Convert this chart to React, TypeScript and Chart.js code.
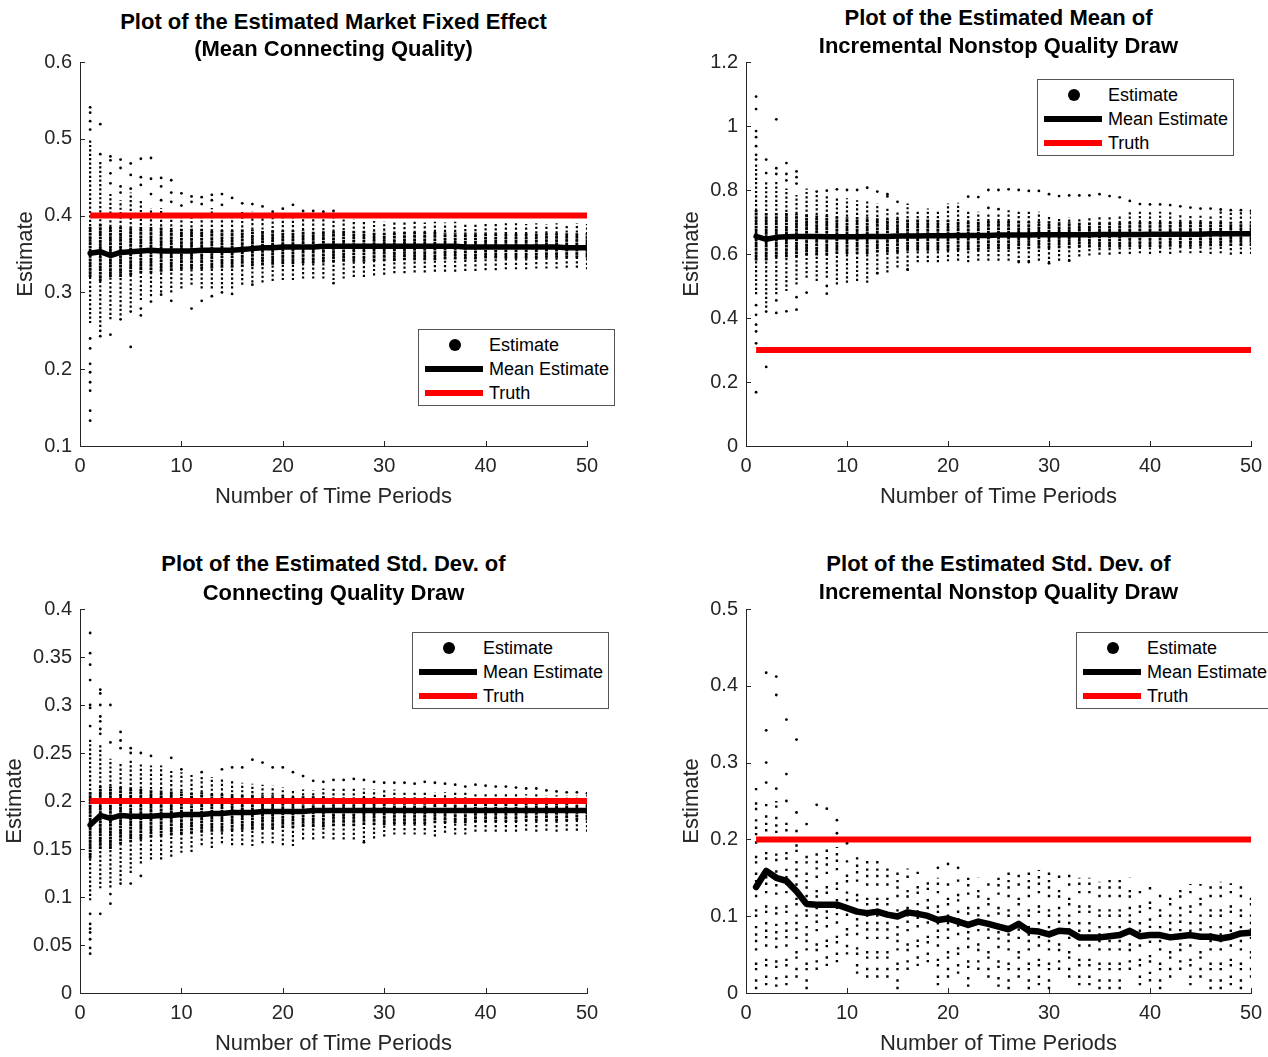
import React, { useEffect, useRef } from 'react';
import { Chart, registerables } from 'chart.js';

Chart.register(...registerables);

const FONT = '"Liberation Sans", Arial, Helvetica, sans-serif';
const AXIS = '#262626';

// ---------- shared axis data ----------
const PERIODS = [1, 2, 3, 4, 5, 6, 7, 8, 9, 10, 11, 12, 13, 14, 15, 16, 17, 18, 19, 20, 21, 22, 23, 24, 25, 26, 27, 28, 29, 30, 31, 32, 33, 34, 35, 36, 37, 38, 39, 40, 41, 42, 43, 44, 45, 46, 47, 48, 49, 50];
const X_TICKS = [0, 10, 20, 30, 40, 50];

// ---------- panel 1: market fixed effect ----------
const P1_Y_TICKS = [0.1, 0.2, 0.3, 0.4, 0.5, 0.6];
const P1_TRUTH = 0.4;
const P1_MEAN = [0.351, 0.353, 0.348, 0.352, 0.353, 0.354, 0.355, 0.354, 0.354, 0.354, 0.354, 0.355, 0.355, 0.355, 0.355, 0.356, 0.357, 0.358, 0.358, 0.359, 0.359, 0.359, 0.359, 0.36, 0.36, 0.36, 0.36, 0.36, 0.36, 0.36, 0.36, 0.36, 0.36, 0.36, 0.36, 0.36, 0.36, 0.359, 0.359, 0.359, 0.359, 0.359, 0.359, 0.359, 0.359, 0.359, 0.359, 0.358, 0.358, 0.358];
const P1_HI = [0.50, 0.47, 0.43, 0.42, 0.43, 0.42, 0.41, 0.41, 0.40, 0.40, 0.40, 0.40, 0.41, 0.40, 0.40, 0.405, 0.405, 0.40, 0.40, 0.40, 0.40, 0.40, 0.40, 0.40, 0.40, 0.395, 0.395, 0.394, 0.393, 0.392, 0.392, 0.393, 0.392, 0.391, 0.392, 0.391, 0.392, 0.391, 0.390, 0.391, 0.390, 0.391, 0.390, 0.389, 0.390, 0.389, 0.390, 0.389, 0.390, 0.389];
const P1_LO = [0.26, 0.255, 0.265, 0.27, 0.28, 0.29, 0.295, 0.30, 0.30, 0.305, 0.31, 0.305, 0.305, 0.305, 0.305, 0.31, 0.313, 0.313, 0.315, 0.316, 0.316, 0.318, 0.318, 0.318, 0.316, 0.318, 0.32, 0.32, 0.322, 0.323, 0.325, 0.325, 0.326, 0.326, 0.327, 0.327, 0.327, 0.328, 0.328, 0.329, 0.329, 0.33, 0.33, 0.33, 0.331, 0.331, 0.331, 0.332, 0.332, 0.33];
const P1_CORE_LO = [0.32, 0.315, 0.32, 0.32, 0.322, 0.325, 0.325, 0.327, 0.328, 0.33, 0.33, 0.33, 0.331, 0.332, 0.332, 0.333, 0.334, 0.335, 0.336, 0.337, 0.337, 0.338, 0.338, 0.339, 0.339, 0.34, 0.34, 0.34, 0.341, 0.341, 0.341, 0.342, 0.342, 0.342, 0.342, 0.343, 0.343, 0.343, 0.343, 0.344, 0.344, 0.344, 0.344, 0.344, 0.344, 0.345, 0.345, 0.345, 0.345, 0.345];
const P1_CORE_HI = [0.385, 0.39, 0.385, 0.385, 0.385, 0.385, 0.385, 0.385, 0.384, 0.383, 0.383, 0.383, 0.382, 0.382, 0.382, 0.382, 0.382, 0.381, 0.381, 0.381, 0.381, 0.381, 0.380, 0.380, 0.380, 0.380, 0.380, 0.380, 0.379, 0.379, 0.379, 0.379, 0.379, 0.379, 0.379, 0.378, 0.378, 0.378, 0.378, 0.378, 0.378, 0.378, 0.377, 0.377, 0.377, 0.377, 0.377, 0.377, 0.377, 0.377];
const P1_OUT = [[1, 0.541], [1, 0.534], [1, 0.523], [1, 0.512], [1, 0.24], [1, 0.227], [1, 0.207], [1, 0.196], [1, 0.183], [1, 0.172], [1, 0.146], [1, 0.133], [2, 0.519], [2, 0.48], [2, 0.25], [2, 0.243], [3, 0.477], [3, 0.472], [3, 0.455], [3, 0.442], [3, 0.245], [4, 0.473], [4, 0.462], [4, 0.438], [4, 0.43], [4, 0.265], [5, 0.468], [5, 0.453], [5, 0.435], [5, 0.275], [5, 0.229], [6, 0.474], [6, 0.45], [6, 0.44], [6, 0.279], [6, 0.27], [7, 0.475], [7, 0.448], [7, 0.428], [7, 0.288], [8, 0.449], [8, 0.438], [8, 0.42], [8, 0.297], [9, 0.446], [9, 0.43], [9, 0.418], [9, 0.289], [10, 0.429], [10, 0.413], [11, 0.425], [11, 0.418], [11, 0.279], [12, 0.424], [12, 0.415], [12, 0.289], [13, 0.427], [13, 0.42], [13, 0.295], [14, 0.428], [14, 0.414], [14, 0.30], [15, 0.423], [15, 0.298], [16, 0.416], [17, 0.415], [17, 0.31], [18, 0.412], [19, 0.405], [20, 0.409], [21, 0.414], [22, 0.406], [23, 0.406], [24, 0.405], [25, 0.406], [25, 0.312]];

// ---------- panel 2: mean of incremental nonstop quality draw ----------
const P2_Y_TICKS = [0, 0.2, 0.4, 0.6, 0.8, 1, 1.2];
const P2_TRUTH = 0.3;
const P2_MEAN = [0.655, 0.646, 0.652, 0.654, 0.655, 0.655, 0.655, 0.654, 0.654, 0.654, 0.654, 0.655, 0.655, 0.655, 0.656, 0.656, 0.656, 0.657, 0.657, 0.657, 0.658, 0.658, 0.658, 0.658, 0.659, 0.659, 0.659, 0.659, 0.66, 0.66, 0.66, 0.66, 0.66, 0.66, 0.661, 0.661, 0.661, 0.661, 0.661, 0.662, 0.662, 0.662, 0.662, 0.662, 0.662, 0.663, 0.663, 0.663, 0.663, 0.663];
const P2_HI = [0.884, 0.826, 0.826, 0.805, 0.784, 0.805, 0.79, 0.784, 0.779, 0.774, 0.768, 0.768, 0.758, 0.742, 0.737, 0.758, 0.737, 0.742, 0.737, 0.758, 0.76, 0.737, 0.732, 0.726, 0.726, 0.737, 0.732, 0.732, 0.732, 0.721, 0.716, 0.716, 0.716, 0.716, 0.716, 0.716, 0.721, 0.732, 0.732, 0.732, 0.732, 0.732, 0.726, 0.721, 0.721, 0.721, 0.737, 0.737, 0.737, 0.732];
const P2_LO = [0.474, 0.432, 0.474, 0.484, 0.505, 0.526, 0.516, 0.526, 0.505, 0.51, 0.516, 0.51, 0.537, 0.542, 0.558, 0.547, 0.574, 0.574, 0.574, 0.577, 0.579, 0.574, 0.579, 0.579, 0.579, 0.579, 0.574, 0.574, 0.579, 0.571, 0.579, 0.577, 0.592, 0.595, 0.598, 0.598, 0.60, 0.60, 0.602, 0.60, 0.603, 0.60, 0.604, 0.602, 0.603, 0.60, 0.602, 0.598, 0.60, 0.60];
const P2_CORE_LO = [0.58, 0.58, 0.59, 0.59, 0.59, 0.595, 0.595, 0.595, 0.60, 0.60, 0.60, 0.60, 0.605, 0.605, 0.605, 0.61, 0.61, 0.61, 0.61, 0.61, 0.612, 0.612, 0.612, 0.615, 0.615, 0.615, 0.615, 0.615, 0.617, 0.617, 0.618, 0.618, 0.62, 0.62, 0.62, 0.62, 0.62, 0.622, 0.622, 0.622, 0.622, 0.623, 0.623, 0.623, 0.624, 0.624, 0.624, 0.625, 0.625, 0.625];
const P2_CORE_HI = [0.74, 0.73, 0.73, 0.73, 0.725, 0.725, 0.72, 0.72, 0.72, 0.715, 0.715, 0.715, 0.712, 0.71, 0.71, 0.71, 0.708, 0.708, 0.706, 0.706, 0.705, 0.705, 0.704, 0.704, 0.703, 0.703, 0.703, 0.702, 0.702, 0.702, 0.701, 0.701, 0.701, 0.70, 0.70, 0.70, 0.70, 0.70, 0.70, 0.70, 0.70, 0.70, 0.70, 0.70, 0.70, 0.70, 0.70, 0.70, 0.70, 0.70];
const P2_OUT = [[1, 1.092], [1, 1.053], [1, 0.984], [1, 0.965], [1, 0.937], [1, 0.91], [1, 0.895], [1, 0.44], [1, 0.41], [1, 0.379], [1, 0.358], [1, 0.321], [1, 0.168], [2, 0.895], [2, 0.853], [2, 0.42], [2, 0.247], [3, 1.021], [3, 0.868], [3, 0.85], [3, 0.455], [3, 0.416], [4, 0.884], [4, 0.85], [4, 0.83], [4, 0.421], [5, 0.858], [5, 0.84], [5, 0.82], [5, 0.465], [5, 0.426], [6, 0.479], [7, 0.795], [8, 0.798], [8, 0.50], [8, 0.476], [9, 0.802], [10, 0.80], [11, 0.80], [12, 0.807], [13, 0.795], [13, 0.54], [14, 0.787], [14, 0.78], [15, 0.763], [16, 0.552], [22, 0.779], [23, 0.778], [24, 0.80], [24, 0.744], [25, 0.80], [25, 0.74], [26, 0.802], [27, 0.80], [27, 0.575], [28, 0.797], [28, 0.575], [29, 0.797], [30, 0.787], [30, 0.571], [31, 0.781], [32, 0.783], [32, 0.579], [33, 0.783], [34, 0.783], [35, 0.787], [36, 0.781], [37, 0.777], [38, 0.766], [39, 0.756], [40, 0.755], [41, 0.755], [42, 0.753], [43, 0.749], [44, 0.745], [45, 0.742], [46, 0.742], [47, 0.739], [48, 0.737], [49, 0.737], [50, 0.735]];

// ---------- panel 3: std. dev. of connecting quality draw ----------
const P3_Y_TICKS = [0, 0.05, 0.1, 0.15, 0.2, 0.25, 0.3, 0.35, 0.4];
const P3_TRUTH = 0.2;
const P3_MEAN = [0.175, 0.185, 0.182, 0.185, 0.184, 0.184, 0.184, 0.185, 0.185, 0.186, 0.186, 0.186, 0.187, 0.187, 0.188, 0.188, 0.188, 0.189, 0.189, 0.189, 0.189, 0.189, 0.19, 0.19, 0.19, 0.19, 0.19, 0.19, 0.19, 0.19, 0.19, 0.19, 0.19, 0.19, 0.19, 0.19, 0.19, 0.19, 0.19, 0.19, 0.19, 0.19, 0.19, 0.19, 0.19, 0.19, 0.19, 0.19, 0.19, 0.19];
const P3_HI = [0.265, 0.258, 0.244, 0.24, 0.244, 0.24, 0.237, 0.237, 0.232, 0.23, 0.228, 0.226, 0.225, 0.223, 0.221, 0.219, 0.218, 0.217, 0.216, 0.214, 0.212, 0.212, 0.211, 0.213, 0.213, 0.213, 0.213, 0.213, 0.212, 0.212, 0.212, 0.209, 0.209, 0.209, 0.209, 0.209, 0.209, 0.209, 0.209, 0.209, 0.208, 0.207, 0.207, 0.207, 0.207, 0.206, 0.206, 0.206, 0.206, 0.206];
const P3_LO = [0.0965, 0.109, 0.11, 0.117, 0.125, 0.135, 0.139, 0.139, 0.142, 0.146, 0.147, 0.154, 0.151, 0.156, 0.154, 0.154, 0.153, 0.156, 0.156, 0.154, 0.153, 0.16, 0.16, 0.161, 0.16, 0.16, 0.16, 0.157, 0.161, 0.163, 0.165, 0.165, 0.165, 0.165, 0.163, 0.167, 0.165, 0.165, 0.168, 0.168, 0.168, 0.168, 0.168, 0.169, 0.168, 0.169, 0.168, 0.169, 0.169, 0.168];
const P3_CORE_LO = [0.14, 0.15, 0.15, 0.155, 0.157, 0.16, 0.162, 0.163, 0.164, 0.165, 0.166, 0.167, 0.168, 0.168, 0.169, 0.17, 0.17, 0.171, 0.171, 0.172, 0.172, 0.173, 0.173, 0.173, 0.174, 0.174, 0.174, 0.175, 0.175, 0.175, 0.176, 0.176, 0.176, 0.176, 0.177, 0.177, 0.177, 0.177, 0.178, 0.178, 0.178, 0.178, 0.178, 0.179, 0.179, 0.179, 0.179, 0.179, 0.18, 0.18];
const P3_CORE_HI = [0.21, 0.215, 0.215, 0.215, 0.214, 0.213, 0.212, 0.211, 0.21, 0.21, 0.209, 0.209, 0.208, 0.208, 0.207, 0.207, 0.207, 0.206, 0.206, 0.206, 0.205, 0.205, 0.205, 0.205, 0.204, 0.204, 0.204, 0.204, 0.204, 0.203, 0.203, 0.203, 0.203, 0.203, 0.203, 0.202, 0.202, 0.202, 0.202, 0.202, 0.202, 0.202, 0.201, 0.201, 0.201, 0.201, 0.201, 0.201, 0.201, 0.201];
const P3_OUT = [[1, 0.375], [1, 0.354], [1, 0.342], [1, 0.326], [1, 0.30], [1, 0.297], [1, 0.278], [1, 0.0825], [1, 0.072], [1, 0.067], [1, 0.063], [1, 0.056], [1, 0.047], [1, 0.041], [2, 0.316], [2, 0.312], [2, 0.30], [2, 0.288], [2, 0.283], [2, 0.275], [2, 0.27], [2, 0.0825], [3, 0.30], [3, 0.261], [3, 0.103], [3, 0.093], [4, 0.272], [4, 0.263], [4, 0.255], [4, 0.114], [5, 0.255], [5, 0.25], [5, 0.114], [6, 0.25], [6, 0.122], [7, 0.247], [9, 0.245], [10, 0.233], [12, 0.23], [14, 0.233], [15, 0.235], [16, 0.235], [17, 0.243], [18, 0.24], [19, 0.235], [20, 0.235], [21, 0.23], [22, 0.226], [23, 0.221], [24, 0.22], [25, 0.222], [26, 0.222], [27, 0.223], [28, 0.222], [28, 0.157], [29, 0.22], [30, 0.219], [31, 0.219], [32, 0.219], [33, 0.218], [34, 0.22], [35, 0.219], [36, 0.218], [37, 0.217], [38, 0.215], [39, 0.217], [40, 0.216], [41, 0.215], [42, 0.215], [43, 0.214], [44, 0.213], [45, 0.213], [46, 0.211], [47, 0.21], [48, 0.209], [49, 0.209], [50, 0.208]];

// ---------- panel 4: std. dev. of incremental nonstop quality draw ----------
const P4_Y_TICKS = [0, 0.1, 0.2, 0.3, 0.4, 0.5];
const P4_TRUTH = 0.2;
const P4_MEAN = [0.138, 0.159, 0.15, 0.146, 0.1325, 0.116, 0.115, 0.115, 0.115, 0.1105, 0.106, 0.104, 0.106, 0.102, 0.0996, 0.105, 0.103, 0.1004, 0.095, 0.097, 0.093, 0.0886, 0.093, 0.09, 0.0864, 0.083, 0.09, 0.081, 0.08, 0.0763, 0.081, 0.08, 0.0724, 0.0724, 0.0724, 0.074, 0.0754, 0.081, 0.074, 0.0754, 0.0754, 0.0724, 0.074, 0.0754, 0.0733, 0.0733, 0.071, 0.0733, 0.0776, 0.0785];
const P4_HI = [0.27, 0.25, 0.25, 0.225, 0.22, 0.19, 0.19, 0.19, 0.19, 0.18, 0.18, 0.175, 0.172, 0.168, 0.162, 0.162, 0.16, 0.155, 0.15, 0.15, 0.15, 0.156, 0.15, 0.15, 0.152, 0.158, 0.155, 0.158, 0.16, 0.16, 0.156, 0.158, 0.15, 0.15, 0.145, 0.148, 0.152, 0.15, 0.14, 0.138, 0.133, 0.13, 0.135, 0.142, 0.142, 0.143, 0.145, 0.143, 0.142, 0.132];
const P4_LO = [0.005, 0.01, 0.008, 0.01, 0.02, 0.005, 0.03, 0.035, 0.04, 0.05, 0.025, 0.02, 0.02, 0.02, 0.005, 0.03, 0.035, 0.04, 0.01, 0.02, 0.025, 0.008, 0.03, 0.02, 0.008, 0.005, 0.02, 0.005, 0.01, 0.005, 0.03, 0.02, 0.01, 0.01, 0.005, 0.005, 0.005, 0.03, 0.01, 0.015, 0.005, 0.02, 0.03, 0.01, 0.02, 0.005, 0.005, 0.01, 0.005, 0.02];
const P4_OUT = [[2, 0.417], [2, 0.342], [2, 0.30], [2, 0.274], [3, 0.412], [3, 0.388], [3, 0.266], [4, 0.356], [4, 0.285], [4, 0.25], [5, 0.33], [5, 0.235], [6, 0.22], [7, 0.245], [8, 0.24], [9, 0.225], [9, 0.208], [10, 0.195], [19, 0.163], [20, 0.168], [21, 0.163]];

// ---------- helpers ----------
const fmt = (v: any) => String(Number(Number(v).toFixed(3)));

function columns(lo: number[], hi: number[]) {
  const pts: any[] = [];
  PERIODS.forEach((t, i) => {
    pts.push({ x: t, y: lo[i] }, { x: t, y: hi[i] }, { x: t, y: null });
  });
  return pts;
}

const inwardTicks = {
  id: 'inwardTicks',
  afterDraw(chart: any) {
    const { ctx, chartArea: a, scales } = chart;
    const x = scales.x;
    const y = scales.y;
    ctx.save();
    ctx.strokeStyle = AXIS;
    ctx.lineWidth = 1;
    ctx.beginPath();
    x.ticks.forEach((t: any) => {
      const px = Math.round(x.getPixelForValue(t.value)) + 0.5;
      ctx.moveTo(px, a.bottom);
      ctx.lineTo(px, a.bottom - 5);
    });
    y.ticks.forEach((t: any) => {
      const py = Math.round(y.getPixelForValue(t.value)) + 0.5;
      ctx.moveTo(a.left, py);
      ctx.lineTo(a.left + 5, py);
    });
    ctx.stroke();
    ctx.restore();
  },
};

const AX_W = 60;
const AX_H = 40;
const PAD_T = 20;
const PAD_R = 16;

type PanelCfg = {
  L: number; R: number; T: number; B: number;
  yTicks: number[]; truth: number; mean: number[];
  lo: number[]; hi: number[]; coreLo?: number[]; coreHi?: number[];
  out: number[][]; sparse?: boolean; meanWidth: number;
  title: string[]; titleY: number[]; yLabelX: number;
  legend: { left: number; top: number };
};

const PANELS: PanelCfg[] = [
  { L: 80, R: 587, T: 62, B: 446, yTicks: P1_Y_TICKS, truth: P1_TRUTH, mean: P1_MEAN, lo: P1_LO, hi: P1_HI, coreLo: P1_CORE_LO, coreHi: P1_CORE_HI, out: P1_OUT, meanWidth: 5.5,
    title: ['Plot of the Estimated Market Fixed Effect', '(Mean Connecting Quality)'], titleY: [22, 49], yLabelX: 25, legend: { left: 418, top: 329 } },
  { L: 746, R: 1251, T: 62, B: 446, yTicks: P2_Y_TICKS, truth: P2_TRUTH, mean: P2_MEAN, lo: P2_LO, hi: P2_HI, coreLo: P2_CORE_LO, coreHi: P2_CORE_HI, out: P2_OUT, meanWidth: 5.5,
    title: ['Plot of the Estimated Mean of', 'Incremental Nonstop Quality Draw'], titleY: [18, 46], yLabelX: 691, legend: { left: 1037, top: 79 } },
  { L: 80, R: 587, T: 609, B: 993, yTicks: P3_Y_TICKS, truth: P3_TRUTH, mean: P3_MEAN, lo: P3_LO, hi: P3_HI, coreLo: P3_CORE_LO, coreHi: P3_CORE_HI, out: P3_OUT, meanWidth: 5.5,
    title: ['Plot of the Estimated Std. Dev. of', 'Connecting Quality Draw'], titleY: [564, 593], yLabelX: 14, legend: { left: 412, top: 632 } },
  { L: 746, R: 1251, T: 609, B: 993, yTicks: P4_Y_TICKS, truth: P4_TRUTH, mean: P4_MEAN, lo: P4_LO, hi: P4_HI, out: P4_OUT, sparse: true, meanWidth: 6.5,
    title: ['Plot of the Estimated Std. Dev. of', 'Incremental Nonstop Quality Draw'], titleY: [564, 592], yLabelX: 691, legend: { left: 1076, top: 632 } },
];

function Panel({ p }: { p: PanelCfg }) {
  const ref = useRef<HTMLCanvasElement | null>(null);
  const w = p.R - p.L + AX_W + PAD_R;
  const h = p.B - p.T + PAD_T + AX_H;

  useEffect(() => {
    if (!ref.current) return;
    const datasets: any[] = [
      { type: 'line', data: [{ x: PERIODS[0], y: p.truth }, { x: PERIODS[PERIODS.length - 1], y: p.truth }], borderColor: '#ff0000', borderWidth: 6, pointRadius: 0, borderCapStyle: 'butt' },
      { type: 'line', data: p.mean.map((v, i) => ({ x: PERIODS[i], y: v })), borderColor: '#000000', borderWidth: p.meanWidth, pointRadius: 0, borderJoinStyle: 'round', borderCapStyle: 'round' },
    ];
    if (p.coreLo && p.coreHi) {
      datasets.push({ type: 'line', data: columns(p.coreLo, p.coreHi), borderColor: '#000000', borderWidth: 2.8, borderDash: [2.5, 0.7], pointRadius: 0, spanGaps: false });
    }
    datasets.push({
      type: 'line', data: columns(p.lo, p.hi), borderColor: '#000000', borderWidth: p.sparse ? 2.4 : 2.2,
      borderDash: p.sparse ? [2.4, 5, 2.4, 9, 2.4, 3, 2.4, 12, 2.4, 6, 2.4, 4] : [2.2, 2.2], pointRadius: 0, spanGaps: false,
    });
    datasets.push({ type: 'scatter', data: p.out.map(([x, y]) => ({ x, y })), backgroundColor: '#000000', borderWidth: 0, pointRadius: 1.4, showLine: false });

    const tickFont = { family: FONT, size: 20 };
    const chart = new Chart(ref.current, {
      type: 'line',
      data: { datasets },
      options: {
        responsive: false,
        animation: false,
        events: [],
        plugins: { legend: { display: false }, tooltip: { enabled: false } },
        layout: { padding: { top: PAD_T, right: PAD_R, left: 0, bottom: 0 } },
        scales: {
          x: {
            type: 'linear', min: 0, max: 50,
            afterBuildTicks: (s: any) => { s.ticks = X_TICKS.map((v) => ({ value: v })); },
            afterFit: (s: any) => { s.height = AX_H; s.paddingLeft = 0; s.paddingRight = 0; },
            grid: { display: false, drawTicks: false },
            border: { display: true, color: AXIS, width: 1 },
            ticks: { padding: 8, color: AXIS, font: tickFont, maxRotation: 0, autoSkip: false, callback: fmt },
          },
          y: {
            type: 'linear', min: p.yTicks[0], max: p.yTicks[p.yTicks.length - 1],
            afterBuildTicks: (s: any) => { s.ticks = p.yTicks.map((v) => ({ value: v })); },
            afterFit: (s: any) => { s.width = AX_W; s.paddingTop = 0; s.paddingBottom = 0; },
            grid: { display: false, drawTicks: false },
            border: { display: true, color: AXIS, width: 1 },
            ticks: { padding: 8, color: AXIS, font: tickFont, autoSkip: false, callback: fmt },
          },
        },
      } as any,
      plugins: [inwardTicks],
    });
    return () => chart.destroy();
  }, [p]);

  const cx = (p.L + p.R) / 2;
  return (
    <>
      <canvas ref={ref} width={w} height={h} style={{ position: 'absolute', left: p.L - AX_W, top: p.T - PAD_T, width: w, height: h }} />
      {p.title.map((t, i) => (
        <div key={i} style={{ position: 'absolute', left: cx - 400, width: 800, top: p.titleY[i] - 13, height: 26, lineHeight: '26px', textAlign: 'center', fontWeight: 'bold', fontSize: 22, color: '#000', whiteSpace: 'nowrap' }}>{t}</div>
      ))}
      <div style={{ position: 'absolute', left: cx - 200, width: 400, top: p.B + 50 - 13, height: 26, lineHeight: '26px', textAlign: 'center', fontSize: 22, color: AXIS }}>Number of Time Periods</div>
      <div style={{ position: 'absolute', left: p.yLabelX - 60, width: 120, top: (p.T + p.B) / 2 - 13, height: 26, lineHeight: '26px', textAlign: 'center', fontSize: 22, color: AXIS, transform: 'rotate(-90deg)', transformOrigin: '50% 50%' }}>Estimate</div>
      <LegendBox left={p.legend.left} top={p.legend.top} />
    </>
  );
}

function LegendBox({ left, top }: { left: number; top: number }) {
  const row = (y: number, marker: React.ReactNode, label: string) => (
    <>
      {marker}
      <div style={{ position: 'absolute', left: 70, top: y - 11, height: 22, lineHeight: '22px', fontSize: 18, color: '#000', whiteSpace: 'nowrap' }}>{label}</div>
    </>
  );
  return (
    <div style={{ position: 'absolute', left, top, width: 197, height: 77, border: '1px solid #555', background: '#fff', boxSizing: 'border-box' }}>
      {row(15, <div style={{ position: 'absolute', left: 30, top: 9, width: 12, height: 12, borderRadius: '50%', background: '#000' }} />, 'Estimate')}
      {row(39, <div style={{ position: 'absolute', left: 6, top: 36, width: 58, height: 6, background: '#000' }} />, 'Mean Estimate')}
      {row(63, <div style={{ position: 'absolute', left: 6, top: 60, width: 58, height: 6, background: '#ff0000' }} />, 'Truth')}
    </div>
  );
}

export default function App() {
  return (
    <div style={{ position: 'absolute', left: 0, top: 0, width: 1268, height: 1057, overflow: 'hidden', background: '#fff', fontFamily: FONT }}>
      {PANELS.map((p, i) => (
        <Panel key={i} p={p} />
      ))}
    </div>
  );
}
